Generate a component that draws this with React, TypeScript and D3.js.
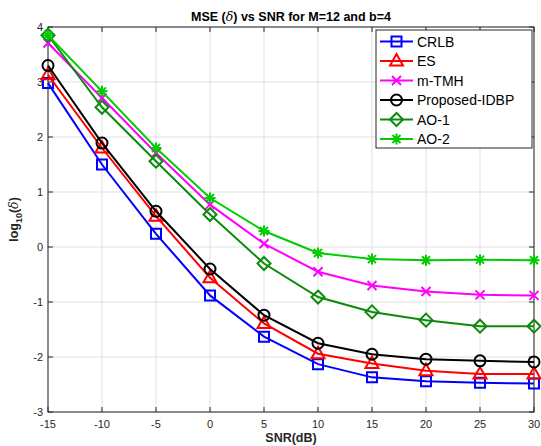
import React, { useRef, useEffect } from 'react'
import { select, scaleLinear, line } from 'd3'

const snr = [-15, -10, -5, 0, 5, 10, 15, 20, 25, 30]
const crlb = [2.98, 1.5, 0.24, -0.88, -1.63, -2.13, -2.37, -2.44, -2.47, -2.48]
const es = [3.13, 1.8, 0.56, -0.56, -1.39, -1.94, -2.12, -2.25, -2.31, -2.31]
const mtmh = [3.71, 2.71, 1.71, 0.77, 0.06, -0.45, -0.7, -0.81, -0.87, -0.88]
const idbp = [3.3, 1.89, 0.65, -0.4, -1.24, -1.75, -1.95, -2.04, -2.07, -2.09]
const ao1 = [3.85, 2.54, 1.56, 0.59, -0.3, -0.91, -1.18, -1.33, -1.44, -1.44]
const ao2 = [3.85, 2.83, 1.8, 0.89, 0.29, -0.11, -0.22, -0.24, -0.23, -0.24]

const xTicks = [-15, -10, -5, 0, 5, 10, 15, 20, 25, 30]
const yTicks = [-3, -2, -1, 0, 1, 2, 3, 4]

const seriesList = [
  { name: 'CRLB', values: crlb, color: '#0000ff', marker: 'square' },
  { name: 'ES', values: es, color: '#ff0000', marker: 'triangle' },
  { name: 'm-TMH', values: mtmh, color: '#ff00ff', marker: 'x' },
  { name: 'Proposed-IDBP', values: idbp, color: '#000000', marker: 'circle' },
  { name: 'AO-1', values: ao1, color: '#0b8a0b', marker: 'diamond' },
  { name: 'AO-2', values: ao2, color: '#00cc00', marker: 'star' },
]

const W = 541, H = 446
const margin = { top: 27, right: 7, bottom: 34, left: 48 }

function markerPath(type: string, cx: number, cy: number) {
  if (type === 'square') {
    const s = 5
    return `M${cx - s},${cy - s}H${cx + s}V${cy + s}H${cx - s}Z`
  }
  if (type === 'triangle') {
    return `M${cx},${cy - 7}L${cx + 6.5},${cy + 4.5}L${cx - 6.5},${cy + 4.5}Z`
  }
  if (type === 'diamond') {
    const s = 6.5
    return `M${cx},${cy - s}L${cx + s},${cy}L${cx},${cy + s}L${cx - s},${cy}Z`
  }
  if (type === 'x') {
    const s = 4.5
    return `M${cx - s},${cy - s}L${cx + s},${cy + s}M${cx - s},${cy + s}L${cx + s},${cy - s}`
  }
  if (type === 'star') {
    const s = 5.5, d = 4
    return `M${cx - s},${cy}H${cx + s}M${cx},${cy - s}V${cy + s}M${cx - d},${cy - d}L${cx + d},${cy + d}M${cx - d},${cy + d}L${cx + d},${cy - d}`
  }
  // circle
  const r = 5.5
  return `M${cx - r},${cy}A${r},${r} 0 1,0 ${cx + r},${cy}A${r},${r} 0 1,0 ${cx - r},${cy}Z`
}

function App() {
  const ref = useRef<SVGSVGElement>(null)

  useEffect(() => {
    const svg = select(ref.current)
    svg.selectAll('*').remove()
    const font = 'Liberation Sans, Arial, Helvetica, sans-serif'

    const x = scaleLinear().domain([-15, 30]).range([margin.left, W - margin.right])
    const y = scaleLinear().domain([-3, 4]).range([H - margin.bottom, margin.top])
    const x0 = x(-15), x1 = x(30), y0 = y(-3), y1 = y(4)

    svg.append('rect').attr('x', x0).attr('y', y1).attr('width', x1 - x0).attr('height', y0 - y1).attr('fill', '#fff')

    // grid
    xTicks.forEach(t => {
      svg.append('line').attr('x1', x(t)).attr('x2', x(t)).attr('y1', y1).attr('y2', y0)
        .attr('stroke', '#dfdfdf').attr('stroke-width', 1)
    })
    yTicks.forEach(t => {
      svg.append('line').attr('x1', x0).attr('x2', x1).attr('y1', y(t)).attr('y2', y(t))
        .attr('stroke', '#dfdfdf').attr('stroke-width', 1)
    })

    // box + ticks
    svg.append('rect').attr('x', x0).attr('y', y1).attr('width', x1 - x0).attr('height', y0 - y1)
      .attr('fill', 'none').attr('stroke', '#262626').attr('stroke-width', 1)
    xTicks.forEach(t => {
      svg.append('line').attr('x1', x(t)).attr('x2', x(t)).attr('y1', y0).attr('y2', y0 - 5).attr('stroke', '#262626')
      svg.append('line').attr('x1', x(t)).attr('x2', x(t)).attr('y1', y1).attr('y2', y1 + 5).attr('stroke', '#262626')
      svg.append('text').attr('x', x(t)).attr('y', y0 + 16).attr('text-anchor', 'middle')
        .attr('font-family', font).attr('font-size', 11).attr('fill', '#262626').text(t)
    })
    yTicks.forEach(t => {
      svg.append('line').attr('x1', x0).attr('x2', x0 + 5).attr('y1', y(t)).attr('y2', y(t)).attr('stroke', '#262626')
      svg.append('line').attr('x1', x1).attr('x2', x1 - 5).attr('y1', y(t)).attr('y2', y(t)).attr('stroke', '#262626')
      svg.append('text').attr('x', x0 - 5).attr('y', y(t) + 4).attr('text-anchor', 'end')
        .attr('font-family', font).attr('font-size', 11).attr('fill', '#262626').text(t)
    })

    // lines and markers
    const lineGen = line<number>().x((d, i) => x(snr[i])).y(d => y(d))
    seriesList.forEach(s => {
      svg.append('path').attr('d', lineGen(s.values)).attr('fill', 'none')
        .attr('stroke', s.color).attr('stroke-width', 2)
      s.values.forEach((v, i) => {
        svg.append('path').attr('d', markerPath(s.marker, x(snr[i]), y(v)))
          .attr('fill', 'none').attr('stroke', s.color).attr('stroke-width', 2)
      })
    })

    // legend
    const lg = svg.append('g')
    lg.append('rect').attr('x', 376).attr('y', 30).attr('width', 156).attr('height', 118)
      .attr('fill', '#fff').attr('stroke', '#262626').attr('stroke-width', 1)
    seriesList.forEach((s, i) => {
      const ly = 41.5 + i * 19.5
      lg.append('line').attr('x1', 380).attr('x2', 413).attr('y1', ly).attr('y2', ly)
        .attr('stroke', s.color).attr('stroke-width', 2)
      lg.append('path').attr('d', markerPath(s.marker, 396.5, ly)).attr('fill', 'none')
        .attr('stroke', s.color).attr('stroke-width', 2)
      lg.append('text').attr('x', 417).attr('y', ly + 5).attr('font-family', font)
        .attr('font-size', 14).attr('fill', '#000').text(s.name)
    })

    // title and labels
    const title = svg.append('text').attr('x', (x0 + x1) / 2).attr('y', 21).attr('text-anchor', 'middle')
      .attr('font-family', font).attr('font-size', 12.5).attr('font-weight', 'bold').attr('fill', '#000')
    title.append('tspan').text('MSE (')
    title.append('tspan').attr('font-style', 'italic').attr('font-family', 'DejaVu Serif, serif').attr('font-weight', 'normal').text('δ')
    title.append('tspan').text(') vs SNR for M=12 and b=4')

    svg.append('text').attr('x', (x0 + x1) / 2).attr('y', 442).attr('text-anchor', 'middle')
      .attr('font-family', font).attr('font-size', 12.5).attr('font-weight', 'bold').attr('fill', '#262626').text('SNR(dB)')

    const yl = svg.append('text').attr('transform', `translate(18,${(y0 + y1) / 2}) rotate(-90)`)
      .attr('text-anchor', 'middle').attr('font-family', font).attr('font-size', 12.5)
      .attr('font-weight', 'bold').attr('fill', '#262626')
    yl.append('tspan').text('log')
    yl.append('tspan').attr('font-size', 9).attr('dy', 4).text('10')
    yl.append('tspan').attr('dy', -4).text('(')
    yl.append('tspan').attr('font-style', 'italic').attr('font-family', 'DejaVu Serif, serif').attr('font-weight', 'normal').text('δ')
    yl.append('tspan').text(')')
  }, [])

  return (
    <svg ref={ref} width={W} height={H} viewBox={`0 0 ${W} ${H}`}
      style={{ position: 'absolute', left: 0, top: 0, background: '#fff' }} />
  )
}

export default App
